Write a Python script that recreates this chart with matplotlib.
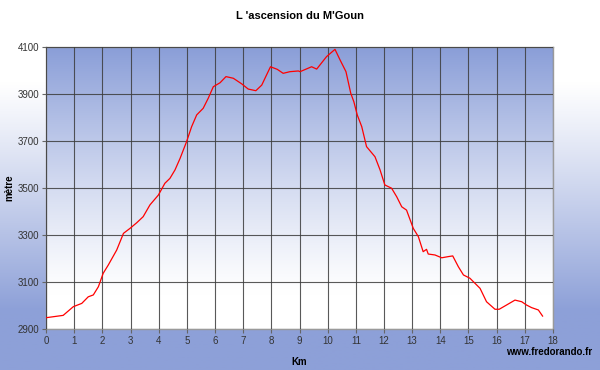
import numpy as np
import matplotlib
matplotlib.use("Agg")
import matplotlib.pyplot as plt

plt.rcParams['font.family'] = ['Liberation Sans', 'DejaVu Sans']

km = [0.00, 0.61, 0.97, 1.27, 1.50, 1.68, 1.86, 2.03, 2.21, 2.51, 2.75, 2.98,
      3.22, 3.45, 3.69, 3.99, 4.22, 4.40, 4.58, 4.76, 4.99, 5.17, 5.35, 5.58,
      5.76, 5.94, 6.18, 6.39, 6.65, 6.95, 7.18, 7.45, 7.66, 7.83, 7.97, 8.21,
      8.42, 8.66, 8.96, 9.02, 9.43, 9.61, 9.96, 10.26, 10.44, 10.65, 10.82,
      10.93, 11.05, 11.21, 11.38, 11.68, 11.86, 12.03, 12.27, 12.45, 12.63,
      12.80, 13.04, 13.22, 13.39, 13.51, 13.57, 13.81, 14.05, 14.28, 14.44,
      14.64, 14.82, 15.05, 15.41, 15.64, 15.94, 16.09, 16.35, 16.65, 16.89,
      17.06, 17.24, 17.48, 17.63]
altitude = [2948, 2958, 2995, 3009, 3037, 3045, 3080, 3137, 3172, 3236, 3307,
            3328, 3352, 3378, 3428, 3470, 3520, 3541, 3577, 3626, 3697, 3761,
            3811, 3839, 3882, 3931, 3948, 3974, 3967, 3943, 3921, 3914, 3938,
            3981, 4016, 4005, 3988, 3995, 3998, 3995, 4016, 4006, 4059, 4090,
            4045, 3995, 3903, 3867, 3811, 3761, 3676, 3633, 3577, 3513, 3499,
            3463, 3420, 3406, 3328, 3293, 3229, 3239, 3219, 3215, 3203, 3208,
            3211, 3165, 3130, 3116, 3073, 3016, 2984, 2984, 3002, 3023, 3016,
            3002, 2991, 2981, 2955]

x_ticks = list(range(0, 19))
y_ticks = [2900, 3100, 3300, 3500, 3700, 3900, 4100]

title = "L 'ascension du M'Goun"
x_label = "Km"
y_label = "mètre"
credit = "www.fredorando.fr"

fig = plt.figure(figsize=(6, 3.7), dpi=100)

# Figure background gradient (white top -> blue bottom)
bg = fig.add_axes([0, 0, 1, 1], zorder=-10)
bg.axis('off')
t = np.linspace(0, 1, 256)  # 0 = bottom, 1 = top
prof = np.clip((0.78 - t) / 0.62, 0, 1) ** 1.1
blue = np.array([0x8d, 0xa0, 0xd8]) / 255
white = np.array([1.0, 1.0, 1.0])
img = white[None, :] * (1 - prof[:, None]) + blue[None, :] * prof[:, None]
bg.imshow(img[:, None, :], aspect='auto', extent=[0, 1, 0, 1], origin='lower')
bg.set_xlim(0, 1)
bg.set_ylim(0, 1)

ax = fig.add_axes([46 / 600, 41 / 370, 507 / 600, 282 / 370])
# Plot area gradient (blue top -> white bottom)
t2 = np.linspace(0, 1, 256)
prof2 = np.clip((t2 - 0.12) / 0.88, 0, 1) ** 1.2
blue2 = np.array([0x8a, 0x9e, 0xd8]) / 255
img2 = white[None, :] * (1 - prof2[:, None]) + blue2[None, :] * prof2[:, None]
ax.imshow(img2[:, None, :], aspect='auto', extent=[0, 18, 2900, 4100],
          origin='lower', zorder=0)

ax.set_xlim(0, 18)
ax.set_ylim(2900, 4100)
ax.set_xticks(x_ticks)
ax.set_yticks(y_ticks)
ax.grid(True, color='#3c3c3c', linewidth=0.8, alpha=0.85, zorder=1)
ax.set_axisbelow(False)

ax.plot(km, altitude, color='#ff0000', linewidth=0.9, zorder=3)

for s in ax.spines.values():
    s.set_color('#9a9a9a')
    s.set_linewidth(1.0)
ax.tick_params(axis='both', labelsize=7, colors='#333333', length=3,
               width=0.8, direction='out', pad=2)
ax.tick_params(axis='both', color='#666666')

ax.set_xlabel(x_label, fontsize=7, fontweight='bold')
ax.set_ylabel(y_label, fontsize=7, fontweight='bold')
ax.xaxis.set_label_coords(0.5, (329 - 357) / 282)
ax.yaxis.set_label_coords((14 - 46) / 507, 0.5)
fig.text(0.5, 1 - 16 / 370, title, fontsize=8, fontweight='bold',
         ha='center', va='center')
fig.text(592 / 600, 1 - 352 / 370, credit, fontsize=7, fontweight='bold',
         ha='right', va='center')

fig.savefig('out.png', dpi=100)
